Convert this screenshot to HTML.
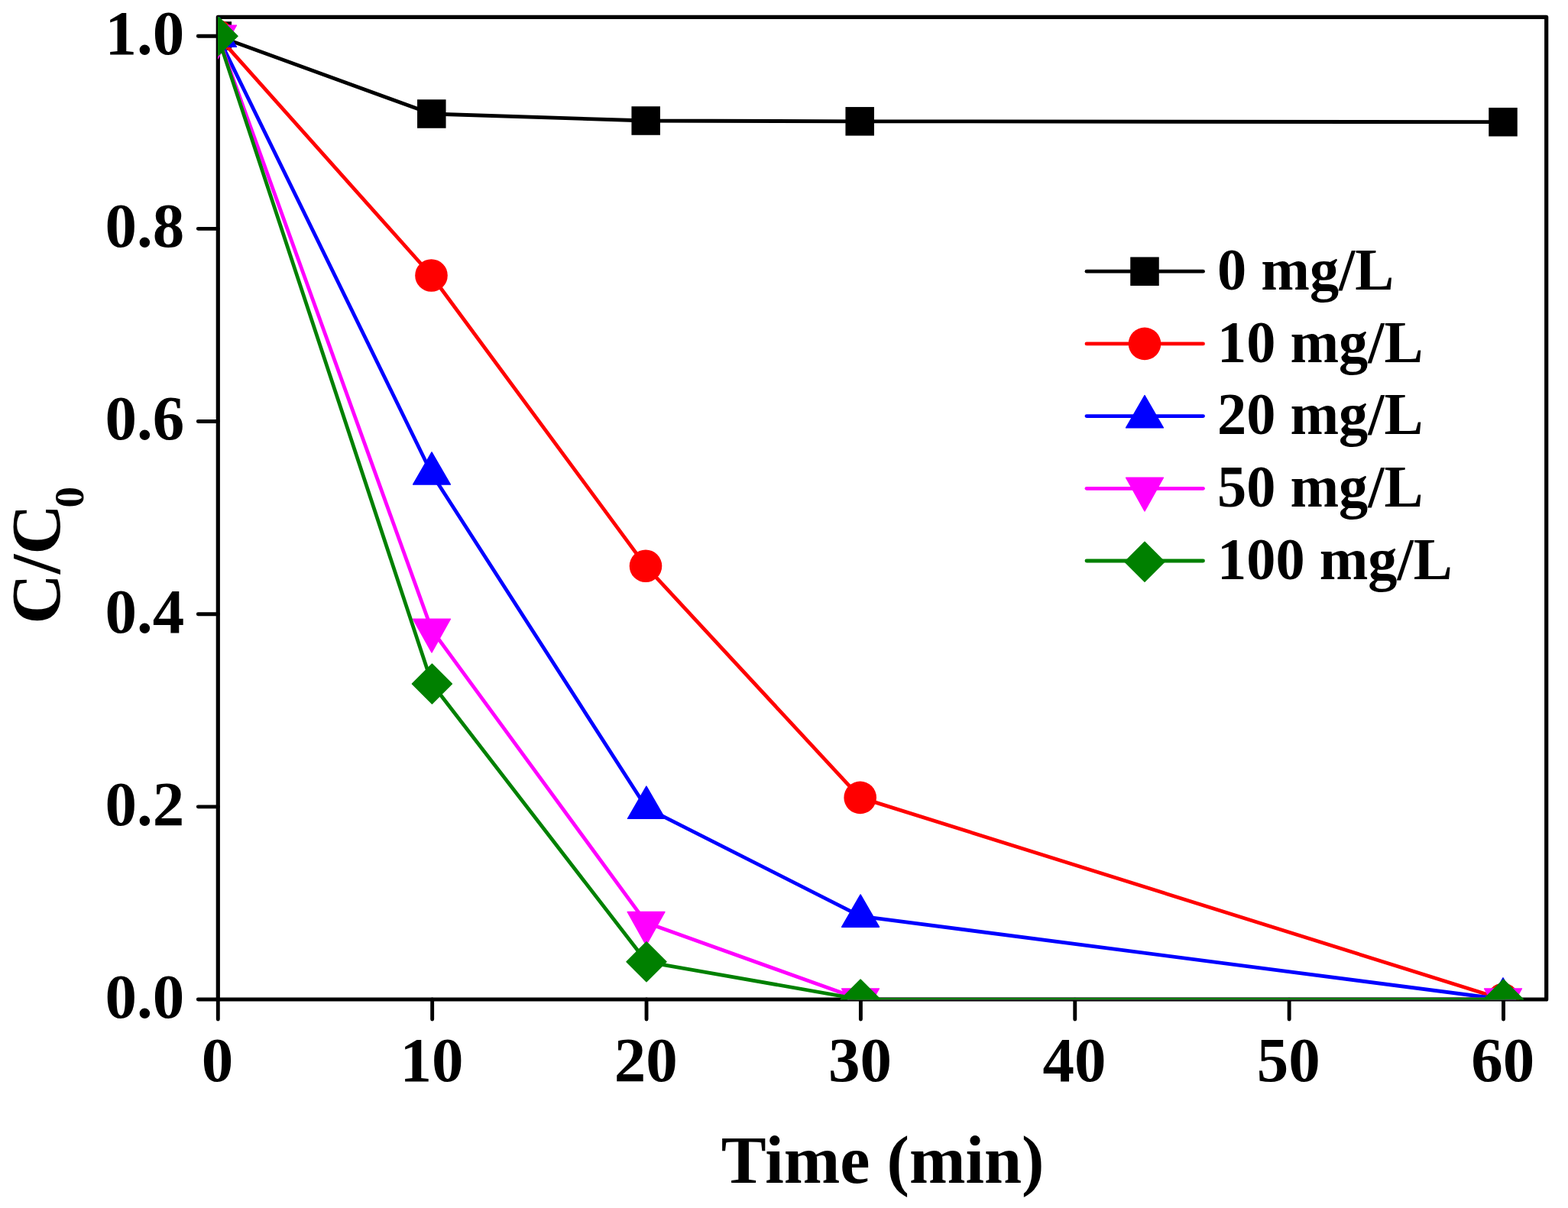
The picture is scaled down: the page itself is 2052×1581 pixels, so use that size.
<!DOCTYPE html><html><head><meta charset="utf-8"><title>C/C0 vs Time</title><style>html,body{margin:0;padding:0;background:#fff;}svg{display:block;}text{font-family:"Liberation Serif","Times New Roman",serif;font-weight:bold;fill:#000;}</style></head><body>
<svg width="2052" height="1581" viewBox="0 0 2052 1581">
<rect width="2052" height="1581" fill="#fff"/>
<defs><clipPath id="pc"><rect x="285" y="22" width="1739" height="1286.4"/></clipPath></defs>
<rect x="285.3" y="22.3" width="1738.4" height="1285.7" fill="none" stroke="#000" stroke-width="5.2" stroke-linejoin="round"/>
<path d="M285.30,1308.0V1334.0M565.67,1308.0V1334.0M846.04,1308.0V1334.0M1126.41,1308.0V1334.0M1406.78,1308.0V1334.0M1687.15,1308.0V1334.0M1967.52,1308.0V1334.0M285.3,1308.00H259.3M285.3,1055.84H259.3M285.3,803.68H259.3M285.3,551.52H259.3M285.3,299.36H259.3M285.3,47.20H259.3" stroke="#000" stroke-width="4.9" stroke-linecap="round" fill="none"/>
<text x="284.5" y="1415.1" font-size="83" text-anchor="middle">0</text>
<text x="564.9" y="1415.1" font-size="83" text-anchor="middle">10</text>
<text x="845.2" y="1415.1" font-size="83" text-anchor="middle">20</text>
<text x="1125.6" y="1415.1" font-size="83" text-anchor="middle">30</text>
<text x="1406.0" y="1415.1" font-size="83" text-anchor="middle">40</text>
<text x="1686.3" y="1415.1" font-size="83" text-anchor="middle">50</text>
<text x="1966.7" y="1415.1" font-size="83" text-anchor="middle">60</text>
<text x="241.3" y="1331.8" font-size="83" text-anchor="end">0.0</text>
<text x="241.3" y="1079.6" font-size="83" text-anchor="end">0.2</text>
<text x="241.3" y="827.5" font-size="83" text-anchor="end">0.4</text>
<text x="241.3" y="575.3" font-size="83" text-anchor="end">0.6</text>
<text x="241.3" y="323.2" font-size="83" text-anchor="end">0.8</text>
<text x="241.3" y="71.0" font-size="83" text-anchor="end">1.0</text>
<text x="1155.2" y="1547.8" font-size="88.3" text-anchor="middle">Time (min)</text>
<text transform="translate(78,816.7) rotate(-90)" font-size="91">C/C<tspan font-size="55" dx="-4.5" dy="30.7">0</tspan></text>
<g clip-path="url(#pc)">
<polyline points="284.3,47.0 564.8,149.0 845.2,158.0 1125.2,158.8 1967.0,159.7" fill="none" stroke="#000000" stroke-width="4.8" stroke-linejoin="round" stroke-linecap="round"/>
<rect x="265.55" y="28.25" width="37.50" height="37.50" fill="#000000"/>
<rect x="546.05" y="130.25" width="37.50" height="37.50" fill="#000000"/>
<rect x="826.45" y="139.25" width="37.50" height="37.50" fill="#000000"/>
<rect x="1106.45" y="140.05" width="37.50" height="37.50" fill="#000000"/>
<rect x="1948.25" y="140.95" width="37.50" height="37.50" fill="#000000"/>
<polyline points="285.0,47.2 564.5,360.5 845.0,740.8 1125.7,1043.9 1967.0,1308.0" fill="none" stroke="#FF0000" stroke-width="4.8" stroke-linejoin="round" stroke-linecap="round"/>
<circle cx="285.00" cy="47.20" r="21.3" fill="#FF0000"/>
<circle cx="564.50" cy="360.50" r="21.3" fill="#FF0000"/>
<circle cx="845.00" cy="740.80" r="21.3" fill="#FF0000"/>
<circle cx="1125.70" cy="1043.90" r="21.3" fill="#FF0000"/>
<circle cx="1967.00" cy="1308.00" r="21.3" fill="#FF0000"/>
<polyline points="285.0,47.2 565.0,620.0 845.9,1057.3 1126.1,1199.1 1967.0,1308.0" fill="none" stroke="#0000FF" stroke-width="4.8" stroke-linejoin="round" stroke-linecap="round"/>
<polygon points="285.00,19.00 309.42,61.30 260.58,61.30" fill="#0000FF" stroke="#0000FF" stroke-width="1.4" stroke-linejoin="round"/>
<polygon points="565.00,591.80 589.42,634.10 540.58,634.10" fill="#0000FF" stroke="#0000FF" stroke-width="1.4" stroke-linejoin="round"/>
<polygon points="845.90,1029.10 870.32,1071.40 821.48,1071.40" fill="#0000FF" stroke="#0000FF" stroke-width="1.4" stroke-linejoin="round"/>
<polygon points="1126.10,1170.90 1150.52,1213.20 1101.68,1213.20" fill="#0000FF" stroke="#0000FF" stroke-width="1.4" stroke-linejoin="round"/>
<polygon points="1967.00,1279.80 1991.42,1322.10 1942.58,1322.10" fill="#0000FF" stroke="#0000FF" stroke-width="1.4" stroke-linejoin="round"/>
<polyline points="285.0,47.2 565.0,824.2 845.6,1207.6 1126.0,1308.0 1967.0,1308.0" fill="none" stroke="#FF00FF" stroke-width="4.8" stroke-linejoin="round" stroke-linecap="round"/>
<polygon points="285.00,76.80 309.42,33.10 260.58,33.10" fill="#FF00FF" stroke="#FF00FF" stroke-width="1.4" stroke-linejoin="round"/>
<polygon points="565.00,853.80 589.42,810.10 540.58,810.10" fill="#FF00FF" stroke="#FF00FF" stroke-width="1.4" stroke-linejoin="round"/>
<polygon points="845.60,1237.20 870.02,1193.50 821.18,1193.50" fill="#FF00FF" stroke="#FF00FF" stroke-width="1.4" stroke-linejoin="round"/>
<polygon points="1126.00,1337.60 1150.42,1293.90 1101.58,1293.90" fill="#FF00FF" stroke="#FF00FF" stroke-width="1.4" stroke-linejoin="round"/>
<polygon points="1967.00,1337.60 1991.42,1293.90 1942.58,1293.90" fill="#FF00FF" stroke="#FF00FF" stroke-width="1.4" stroke-linejoin="round"/>
<polyline points="285.0,47.2 565.4,895.0 846.0,1258.8 1126.1,1308.0 1967.5,1308.0" fill="none" stroke="#008000" stroke-width="4.8" stroke-linejoin="round" stroke-linecap="round"/>
<polygon points="285.00,21.20 311.00,47.20 285.00,73.20 259.00,47.20" fill="#008000" stroke="#008000" stroke-width="1.4" stroke-linejoin="round"/>
<polygon points="565.40,869.00 591.40,895.00 565.40,921.00 539.40,895.00" fill="#008000" stroke="#008000" stroke-width="1.4" stroke-linejoin="round"/>
<polygon points="846.00,1232.80 872.00,1258.80 846.00,1284.80 820.00,1258.80" fill="#008000" stroke="#008000" stroke-width="1.4" stroke-linejoin="round"/>
<polygon points="1126.10,1282.00 1152.10,1308.00 1126.10,1334.00 1100.10,1308.00" fill="#008000" stroke="#008000" stroke-width="1.4" stroke-linejoin="round"/>
<polygon points="1967.50,1282.00 1993.50,1308.00 1967.50,1334.00 1941.50,1308.00" fill="#008000" stroke="#008000" stroke-width="1.4" stroke-linejoin="round"/>
</g>
<line x1="1422" y1="355.2" x2="1574.5" y2="355.2" stroke="#000000" stroke-width="4.8" stroke-linecap="round"/>
<rect x="1479.25" y="336.45" width="37.50" height="37.50" fill="#000000"/>
<text transform="translate(1593,379.00) scale(1,1.02)" font-size="76.4">0 mg/L</text>
<line x1="1422" y1="449.9" x2="1574.5" y2="449.9" stroke="#FF0000" stroke-width="4.8" stroke-linecap="round"/>
<circle cx="1498.00" cy="449.90" r="21.3" fill="#FF0000"/>
<text transform="translate(1593,473.73) scale(1,1.02)" font-size="76.4">10 mg/L</text>
<line x1="1422" y1="544.6" x2="1574.5" y2="544.6" stroke="#0000FF" stroke-width="4.8" stroke-linecap="round"/>
<polygon points="1498.00,517.60 1522.42,559.90 1473.58,559.90" fill="#0000FF" stroke="#0000FF" stroke-width="1.4" stroke-linejoin="round"/>
<text transform="translate(1593,568.46) scale(1,1.02)" font-size="76.4">20 mg/L</text>
<line x1="1422" y1="639.3" x2="1574.5" y2="639.3" stroke="#FF00FF" stroke-width="4.8" stroke-linecap="round"/>
<polygon points="1498.00,668.90 1522.42,625.20 1473.58,625.20" fill="#FF00FF" stroke="#FF00FF" stroke-width="1.4" stroke-linejoin="round"/>
<text transform="translate(1593,663.19) scale(1,1.02)" font-size="76.4">50 mg/L</text>
<line x1="1422" y1="734.0" x2="1574.5" y2="734.0" stroke="#008000" stroke-width="4.8" stroke-linecap="round"/>
<polygon points="1498.00,709.20 1524.00,735.20 1498.00,761.20 1472.00,735.20" fill="#008000" stroke="#008000" stroke-width="1.4" stroke-linejoin="round"/>
<text transform="translate(1593,757.92) scale(1,1.02)" font-size="76.4">100 mg/L</text>
</svg></body></html>
